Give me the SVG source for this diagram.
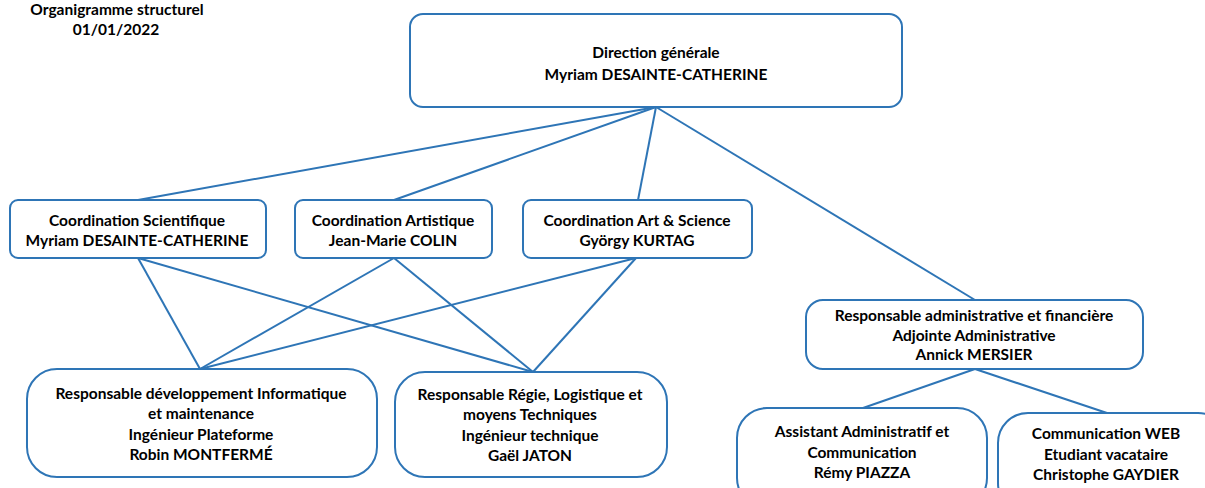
<svg xmlns="http://www.w3.org/2000/svg" width="1205" height="488" viewBox="0 0 1205 488">
<style>
.box{fill:#fff;stroke:#2E75B6;stroke-width:2}
.lnk{stroke:#2E75B6;stroke-width:2;fill:none}
text{font-family:Lato,"Liberation Sans",sans-serif;font-weight:bold;font-size:15.5px;fill:#000;text-anchor:middle}
</style>
<rect width="1205" height="488" fill="#fff"/>
<g id="title">
<text x="117" y="15">Organigramme structurel</text>
<text x="116" y="35">01/01/2022</text>
</g>
<g id="connectors">
<line class="lnk" x1="656" y1="107" x2="138" y2="200"/>
<line class="lnk" x1="656" y1="107" x2="394" y2="200"/>
<line class="lnk" x1="656" y1="107" x2="638" y2="200"/>
<line class="lnk" x1="656" y1="107" x2="975" y2="300"/>
<line class="lnk" x1="138" y1="258" x2="200" y2="369"/>
<line class="lnk" x1="138" y1="258" x2="533" y2="372"/>
<line class="lnk" x1="394" y1="258" x2="200" y2="369"/>
<line class="lnk" x1="394" y1="258" x2="533" y2="372"/>
<line class="lnk" x1="636" y1="258" x2="200" y2="369"/>
<line class="lnk" x1="636" y1="258" x2="533" y2="372"/>
<line class="lnk" x1="975" y1="369" x2="863" y2="408"/>
<line class="lnk" x1="975" y1="369" x2="1107" y2="413"/>
</g>
<g id="direction">
<rect class="box" x="410" y="14" width="492" height="93" rx="13"/>
<text x="656" y="58">Direction générale</text>
<text x="656" y="80">Myriam DESAINTE-CATHERINE</text>
</g>
<g id="coord-sci">
<rect class="box" x="10" y="200" width="256" height="58" rx="8"/>
<text x="137" y="226">Coordination Scientifique</text>
<text x="137" y="246">Myriam DESAINTE-CATHERINE</text>
</g>
<g id="coord-art">
<rect class="box" x="295" y="200" width="197" height="58" rx="8"/>
<text x="393" y="226">Coordination Artistique</text>
<text x="393" y="246">Jean-Marie COLIN</text>
</g>
<g id="coord-artsci">
<rect class="box" x="523" y="200" width="229" height="58" rx="8"/>
<text x="637" y="226">Coordination Art &amp; Science</text>
<text x="637" y="246">György KURTAG</text>
</g>
<g id="admin">
<rect class="box" x="806" y="300" width="337" height="69" rx="17"/>
<text x="974" y="321">Responsable administrative et financière</text>
<text x="974" y="341">Adjointe Administrative</text>
<text x="974" y="360">Annick MERSIER</text>
</g>
<g id="dev">
<rect class="box" x="27" y="369" width="350" height="108" rx="30"/>
<text x="201" y="399">Responsable développement Informatique</text>
<text x="201" y="419">et maintenance</text>
<text x="201" y="440">Ingénieur Plateforme</text>
<text x="201" y="460">Robin MONTFERMÉ</text>
</g>
<g id="regie">
<rect class="box" x="395" y="372" width="272" height="105" rx="30"/>
<text x="530" y="400">Responsable Régie, Logistique et</text>
<text x="530" y="420">moyens Techniques</text>
<text x="530" y="441">Ingénieur technique</text>
<text x="530" y="461">Gaël JATON</text>
</g>
<g id="assistant">
<rect class="box" x="737" y="408" width="250" height="100" rx="30"/>
<text x="862" y="437">Assistant Administratif et</text>
<text x="862" y="458">Communication</text>
<text x="862" y="478">Rémy PIAZZA</text>
</g>
<g id="web">
<rect class="box" x="998" y="413" width="230" height="100" rx="30"/>
<text x="1106" y="439">Communication WEB</text>
<text x="1106" y="460">Etudiant vacataire</text>
<text x="1106" y="480">Christophe GAYDIER</text>
</g>
</svg>
